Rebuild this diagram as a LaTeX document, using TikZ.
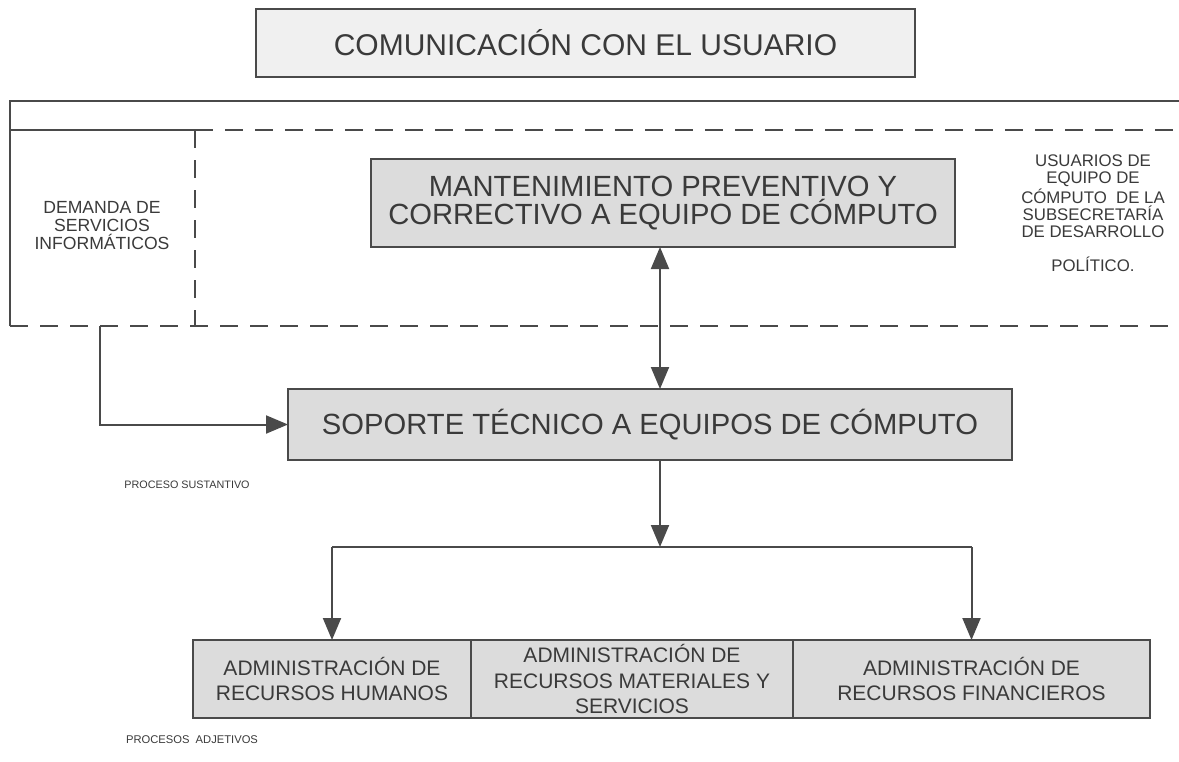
\documentclass[tikz,border=0pt]{standalone}
\usepackage{fontspec}
\setmainfont{Liberation Sans}
\usepackage{tikz}
\usetikzlibrary{arrows.meta,positioning}
\definecolor{trazo}{HTML}{4A4A4A}
\definecolor{relleno}{HTML}{DCDCDC}
\definecolor{texto}{HTML}{3A3A3A}
\tikzstyle{caja}=[draw=trazo,line width=1pt,fill=relleno,text=texto,align=center,inner sep=0pt,outer sep=0pt]
\tikzstyle{etiqueta}=[text=texto,align=center,inner sep=0pt]
\tikzstyle{flecha}=[draw=trazo,line width=1pt,-{Triangle[length=11pt,width=9pt]}]
\tikzstyle{marco}=[draw=trazo,line width=0.8pt]
\tikzstyle{rayas}=[marco,dash pattern=on 9pt off 6pt]

\begin{document}
\begin{tikzpicture}[x=0.5pt,y=-0.5pt]
    \useasboundingbox (0,0) rectangle (1179,761);
    \node[caja,fill=black!6,minimum width=329.5pt,minimum height=34pt,
        font={\fontsize{15}{15}\selectfont}] (usuario) at (585.5,43)
        {COMUNICACIÓN CON EL USUARIO};
    % marco del proceso sustantivo
    \draw[marco] (10,326) -- (10,101) -- (1179,101);
    \draw[marco] (10,130) -- (195,130);
    \draw[rayas] (195,130) -- (1179,130);
    \draw[rayas] (195,130) -- (195,326);
    \draw[rayas] (10,326) -- (1179,326);
    \node[etiqueta,font={\fontsize{8.8}{9}\selectfont}] (demanda) at (102,226)
        {DEMANDA DE\\SERVICIOS\\INFORMÁTICOS};
    \node[etiqueta,font={\fontsize{8.4}{8.6}\selectfont}] (usuarios) at (1093,213)
        {USUARIOS DE\\EQUIPO DE\\CÓMPUTO\ \ DE LA\\SUBSECRETARÍA\\DE DESARROLLO\\[8pt]POLÍTICO.};
    \node[caja,minimum width=292pt,minimum height=44pt,
        font={\fontsize{14.6}{14}\selectfont}] (mant) at (663,203)
        {MANTENIMIENTO PREVENTIVO Y\\CORRECTIVO A EQUIPO DE CÓMPUTO};
    \node[caja,minimum width=362pt,minimum height=35.5pt,
        font={\fontsize{14.6}{15}\selectfont}] (soporte) at (650,424.5)
        {SOPORTE TÉCNICO A EQUIPOS DE CÓMPUTO};
    \node[etiqueta,font={\fontsize{5.4}{5.4}\selectfont}] (sustantivo) at (187,485)
        {PROCESO SUSTANTIVO};
    % procesos adjetivos
    \node[caja,minimum width=139pt,minimum height=39pt,
        font={\fontsize{10.5}{12.8}\selectfont}] (humanos) at (332,679)
        {ADMINISTRACIÓN DE\\RECURSOS HUMANOS};
    \node[caja,minimum width=161pt,minimum height=39pt,
        font={\fontsize{10.5}{12.8}\selectfont},right=0pt of humanos] (materiales)
        {ADMINISTRACIÓN DE\\RECURSOS MATERIALES Y\\SERVICIOS};
    \node[caja,minimum width=178.5pt,minimum height=39pt,
        font={\fontsize{10.5}{12.8}\selectfont},right=0pt of materiales] (financieros)
        {ADMINISTRACIÓN DE\\RECURSOS FINANCIEROS};
    \node[etiqueta,font={\fontsize{5.6}{5.6}\selectfont}] (adjetivos) at (192,740)
        {PROCESOS\ \ ADJETIVOS};
    % conexiones
    \coordinate (salida) at (100,326);
    \coordinate (rama) at (660,547);
    \draw[flecha] (salida) |- (soporte.west);
    \draw[flecha,{Triangle[length=11pt,width=9pt]}-{Triangle[length=11pt,width=9pt]}]
        (mant.south -| rama) -- (soporte.north -| rama);
    \draw[flecha] (soporte.south -| rama) -- (rama);
    \draw[marco,line width=1pt] (humanos.north |- rama) -- (financieros.north |- rama);
    \draw[flecha] (humanos.north |- rama) -- (humanos.north);
    \draw[flecha] (financieros.north |- rama) -- (financieros.north);
\end{tikzpicture}
\end{document}
